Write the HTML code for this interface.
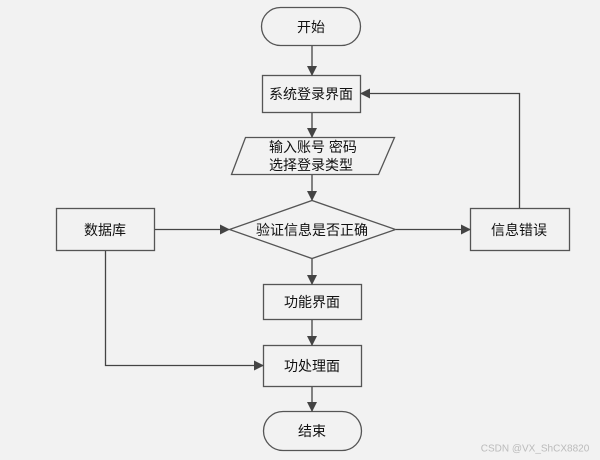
<!DOCTYPE html>
<html><head><meta charset="utf-8"><style>
html,body{margin:0;padding:0;background:#f2f2f2;}
svg{display:block}
text{font-family:"Liberation Sans","Noto Sans CJK SC",sans-serif;font-size:14px;fill:#111;text-anchor:middle;dominant-baseline:central}
</style></head><body>
<svg width="600" height="460" viewBox="0 0 600 460">
<defs><marker id="a" markerWidth="10" markerHeight="10" refX="9" refY="5" orient="auto" markerUnits="userSpaceOnUse"><path d="M0,0 L10,5 L0,10 z" fill="#444"/></marker></defs>
<rect width="600" height="460" fill="#f2f2f2"/>
<g fill="none" stroke="#555" stroke-width="1.3">
<rect x="261.5" y="7.5" width="99" height="38" rx="19"/>
<rect x="262.5" y="75.5" width="98" height="37"/>
<polygon points="245.5,137.5 394.5,137.5 378.5,174.5 231.5,174.5"/>
<polygon points="229.5,229.5 312,200.5 395.5,229.5 312,258.5"/>
<rect x="56.5" y="208.5" width="98" height="42"/>
<rect x="470.5" y="208.5" width="99" height="42"/>
<rect x="263.5" y="284.5" width="98" height="35"/>
<rect x="263.5" y="345.5" width="98" height="41"/>
<rect x="263.5" y="411.5" width="98" height="39" rx="19.5"/>
<g stroke="#444">
<line x1="312" y1="46" x2="312" y2="75" marker-end="url(#a)"/>
<line x1="312" y1="113" x2="312" y2="137" marker-end="url(#a)"/>
<line x1="312" y1="175" x2="312" y2="200" marker-end="url(#a)"/>
<line x1="312" y1="259" x2="312" y2="284" marker-end="url(#a)"/>
<line x1="312" y1="320" x2="312" y2="345" marker-end="url(#a)"/>
<line x1="312" y1="387" x2="312" y2="411" marker-end="url(#a)"/>
<line x1="155" y1="229.5" x2="229" y2="229.5" marker-end="url(#a)"/>
<line x1="396" y1="229.5" x2="470" y2="229.5" marker-end="url(#a)"/>
<polyline points="519.5,208 519.5,93.5 361,93.5" marker-end="url(#a)"/>
<polyline points="105.5,251 105.5,365.5 263,365.5" marker-end="url(#a)"/>
</g>
</g>
<text x="311" y="27">开始</text>
<text x="311" y="94">系统登录界面</text>
<text x="313" y="147">输入账号 密码</text>
<text x="311" y="165">选择登录类型</text>
<text x="312" y="230">验证信息是否正确</text>
<text x="105" y="230">数据库</text>
<text x="519" y="230">信息错误</text>
<text x="312" y="302">功能界面</text>
<text x="312" y="366">功处理面</text>
<text x="312" y="431">结束</text>
<text x="535" y="449" style="font-size:10px;fill:#bbb">CSDN @VX_ShCX8820</text>
</svg>
</body></html>
